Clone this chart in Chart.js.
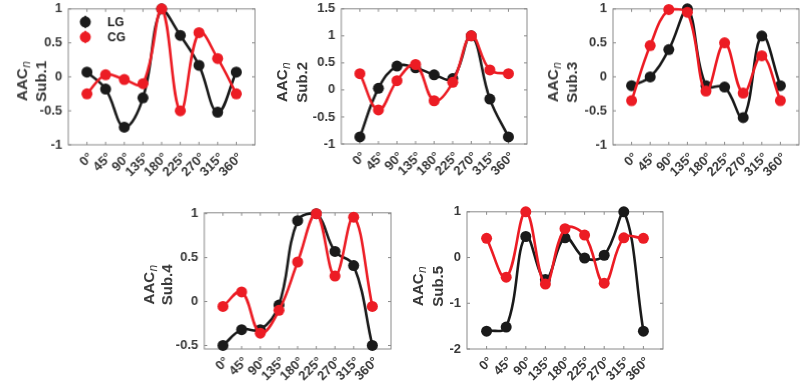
<!DOCTYPE html>
<html>
<head>
<meta charset="utf-8">
<script src="https://cdn.jsdelivr.net/npm/chart.js@4.4.0/dist/chart.umd.min.js"></script>
<style>
  html, body { margin: 0; padding: 0; background: #fff; overflow: hidden; }
  body { width: 800px; height: 382px; position: relative; }
  canvas { position: absolute; }
</style>
</head>
<body>
<canvas id="sub1"></canvas>
<canvas id="sub2"></canvas>
<canvas id="sub3"></canvas>
<canvas id="sub4"></canvas>
<canvas id="sub5"></canvas>
<script>
/* ======================================
   DATA
====================================== */
const angles = ["0°", "45°", "90°", "135°", "180°", "225°", "270°", "315°", "360°"];
const seriesNames = ["LG", "CG"];

const lgSub1 = [0.07, -0.18, -0.74, -0.31, 1.0, 0.61, 0.17, -0.52, 0.07];
const cgSub1 = [-0.25, 0.03, -0.04, -0.10, 1.0, -0.50, 0.65, 0.27, -0.25];

const lgSub2 = [-0.87, 0.03, 0.44, 0.41, 0.28, 0.21, 1.0, -0.17, -0.87];
const cgSub2 = [0.30, -0.37, 0.17, 0.47, -0.20, 0.14, 1.0, 0.37, 0.30];

const lgSub3 = [-0.13, 0.0, 0.40, 1.0, -0.13, -0.15, -0.60, 0.60, -0.13];
const cgSub3 = [-0.35, 0.46, 0.99, 0.95, -0.21, 0.50, -0.24, 0.31, -0.35];

const lgSub4 = [-0.50, -0.32, -0.32, -0.04, 0.92, 1.0, 0.57, 0.41, -0.50];
const cgSub4 = [-0.055, 0.11, -0.36, -0.10, 0.45, 1.0, 0.29, 0.96, -0.055];

const lgSub5 = [-1.61, -1.52, 0.46, -0.48, 0.43, -0.01, 0.05, 1.0, -1.61];
const cgSub5 = [0.42, -0.43, 1.0, -0.58, 0.63, 0.49, -0.56, 0.43, 0.42];

const yTicks1 = [-1, -0.5, 0, 0.5, 1];
const yTicks2 = [-1, -0.5, 0, 0.5, 1, 1.5];
const yTicks3 = [-1, -0.5, 0, 0.5, 1];
const yTicks4 = [-0.5, 0, 0.5, 1];
const yTicks5 = [-2, -1, 0, 1];

/* ======================================
   LAYOUT (plot boxes in page pixels)
====================================== */
const FONT = '"Liberation Sans", Arial, sans-serif';
const PAD_L = 72, PAD_T = 10, PAD_R = 12, PAD_B = 45;

const panels = [
    { id: "sub1", name: "Sub.1", lg: lgSub1, cg: cgSub1, ticks: yTicks1, min: -1, max: 1,
      box: [68, 5, 254.5, 144.5], aacX: 21.7, subX: 40, titleY: 77, legend: true },
    { id: "sub2", name: "Sub.2", lg: lgSub2, cg: cgSub2, ticks: yTicks2, min: -1, max: 1.5,
      box: [341, 4.5, 526.5, 144], aacX: 281.5, subX: 301.7, titleY: 78 },
    { id: "sub3", name: "Sub.3", lg: lgSub3, cg: cgSub3, ticks: yTicks3, min: -1, max: 1,
      box: [613, 5, 799, 144.5], aacX: 552.5, subX: 571.7, titleY: 78 },
    { id: "sub4", name: "Sub.4", lg: lgSub4, cg: cgSub4, ticks: yTicks4, min: -0.54, max: 1.01,
      box: [204, 209, 390.5, 349], aacX: 148, subX: 166.7, titleY: 281 },
    { id: "sub5", name: "Sub.5", lg: lgSub5, cg: cgSub5, ticks: yTicks5, min: -2, max: 1,
      box: [466.5, 207.5, 662.5, 348.5], aacX: 417, subX: 437, titleY: 282 }
];

/* ======================================
   PLUGINS: MATLAB-like box, y label, legend
====================================== */
const framePlugin = {
    id: "frame",
    beforeDatasetsDraw(chart) {
        const { ctx, chartArea: a, scales } = chart;
        ctx.save();
        ctx.strokeStyle = "#8a8a8a";
        ctx.lineWidth = 1;
        ctx.strokeRect(a.left, a.top, a.right - a.left, a.bottom - a.top);
        ctx.beginPath();
        scales.x.ticks.forEach(t => {
            const px = scales.x.getPixelForValue(t.value);
            ctx.moveTo(px, a.bottom); ctx.lineTo(px, a.bottom - 3);
            ctx.moveTo(px, a.top); ctx.lineTo(px, a.top + 3);
        });
        scales.y.ticks.forEach(t => {
            const py = scales.y.getPixelForValue(t.value);
            ctx.moveTo(a.left, py); ctx.lineTo(a.left + 3, py);
            ctx.moveTo(a.right, py); ctx.lineTo(a.right - 3, py);
        });
        ctx.stroke();
        ctx.restore();
    },
    afterDraw(chart) {
        const p = chart.options.plugins.frame;
        const { ctx, chartArea: a } = chart;
        const offX = a.left - p.box[0];
        const offY = a.top - p.box[1];
        ctx.save();
        ctx.fillStyle = "#383838";
        ctx.textBaseline = "alphabetic";

        // line 1: AAC with italic subscript n
        ctx.save();
        ctx.translate(p.aacX + offX, p.titleY + offY);
        ctx.rotate(-Math.PI / 2);
        ctx.font = "bold 15px " + FONT;
        const wA = ctx.measureText("AAC").width;
        ctx.font = "italic 12px " + FONT;
        const wN = ctx.measureText("n").width;
        const x0 = -(wA + wN) / 2;
        ctx.font = "bold 15px " + FONT;
        ctx.fillText("AAC", x0, 5.5);
        ctx.font = "italic 12px " + FONT;
        ctx.fillText("n", x0 + wA + 0.5, 8.5);
        ctx.restore();

        // line 2: Sub.k
        ctx.save();
        ctx.translate(p.subX + offX, p.titleY + offY);
        ctx.rotate(-Math.PI / 2);
        ctx.font = "bold 15px " + FONT;
        ctx.textAlign = "center";
        ctx.fillText(p.name, 0, 5.5);
        ctx.restore();

        // legend (first panel only)
        if (p.legend) {
            chart.data.datasets.slice().sort((d1, d2) => d2.order - d1.order).forEach((ds, i) => {
                const lx = a.left + 17, ly = a.top + 13 + i * 15;
                ctx.strokeStyle = ds.borderColor;
                ctx.lineWidth = 2;
                ctx.beginPath();
                ctx.moveTo(lx, ly - 6); ctx.lineTo(lx, ly + 6);
                ctx.stroke();
                ctx.fillStyle = ds.borderColor;
                ctx.beginPath();
                ctx.arc(lx, ly, 5.5, 0, Math.PI * 2);
                ctx.fill();
                ctx.fillStyle = "#1a1a1a";
                ctx.font = "bold 12px " + FONT;
                ctx.textAlign = "left";
                ctx.textBaseline = "middle";
                ctx.fillText(ds.label, lx + 22, ly + 1);
            });
        }
        ctx.restore();
    }
};

/* ======================================
   CHART BUILDER
====================================== */
function drawPanel(p) {
    const [L, T, R, B] = p.box;
    const canvas = document.getElementById(p.id);
    const w = (R - L) + PAD_L + PAD_R;
    const h = (B - T) + PAD_T + PAD_B;
    canvas.style.left = (L - PAD_L) + "px";
    canvas.style.top = (T - PAD_T) + "px";
    canvas.style.width = w + "px";
    canvas.style.height = h + "px";
    canvas.width = w;
    canvas.height = h;

    const ds = (label, vals, color, order) => ({
        label,
        data: vals.map((v, i) => ({ x: i, y: v })),
        borderColor: color,
        backgroundColor: color,
        pointBackgroundColor: color,
        pointBorderWidth: 0,
        pointRadius: 5.5,
        borderWidth: 2.6,
        tension: 0.4,
        clip: false,
        order
    });

    new Chart(canvas.getContext("2d"), {
        type: "line",
        data: {
            datasets: [
                ds(seriesNames[0], p.lg, "#1a1a1a", 2),
                ds(seriesNames[1], p.cg, "#ec1c24", 1)
            ]
        },
        options: {
            responsive: false,
            animation: false,
            events: [],
            layout: { padding: { top: PAD_T, right: PAD_R, left: 0, bottom: 0 } },
            plugins: {
                legend: { display: false },
                tooltip: { enabled: false },
                frame: p
            },
            scales: {
                x: {
                    type: "linear",
                    min: -1,
                    max: angles.length,
                    border: { display: false },
                    grid: { display: false, drawTicks: false },
                    afterBuildTicks: s => { s.ticks = angles.map((_, i) => ({ value: i })); },
                    afterFit: s => { s.height = PAD_B; },
                    ticks: {
                        autoSkip: false,
                        minRotation: 45,
                        maxRotation: 45,
                        padding: 5,
                        labelOffset: 4,
                        color: "#383838",
                        font: { family: FONT, size: 13, weight: "bold" },
                        callback: v => angles[v]
                    }
                },
                y: {
                    min: p.min,
                    max: p.max,
                    border: { display: false },
                    grid: { display: false, drawTicks: false },
                    afterBuildTicks: s => { s.ticks = p.ticks.map(v => ({ value: v })); },
                    afterFit: s => { s.width = PAD_L; },
                    ticks: {
                        padding: 6,
                        color: "#383838",
                        font: { family: FONT, size: 13, weight: "bold" },
                        callback: v => String(v)
                    }
                }
            }
        },
        plugins: [framePlugin]
    });
}

panels.forEach(drawPanel);
</script>
</body>
</html>
